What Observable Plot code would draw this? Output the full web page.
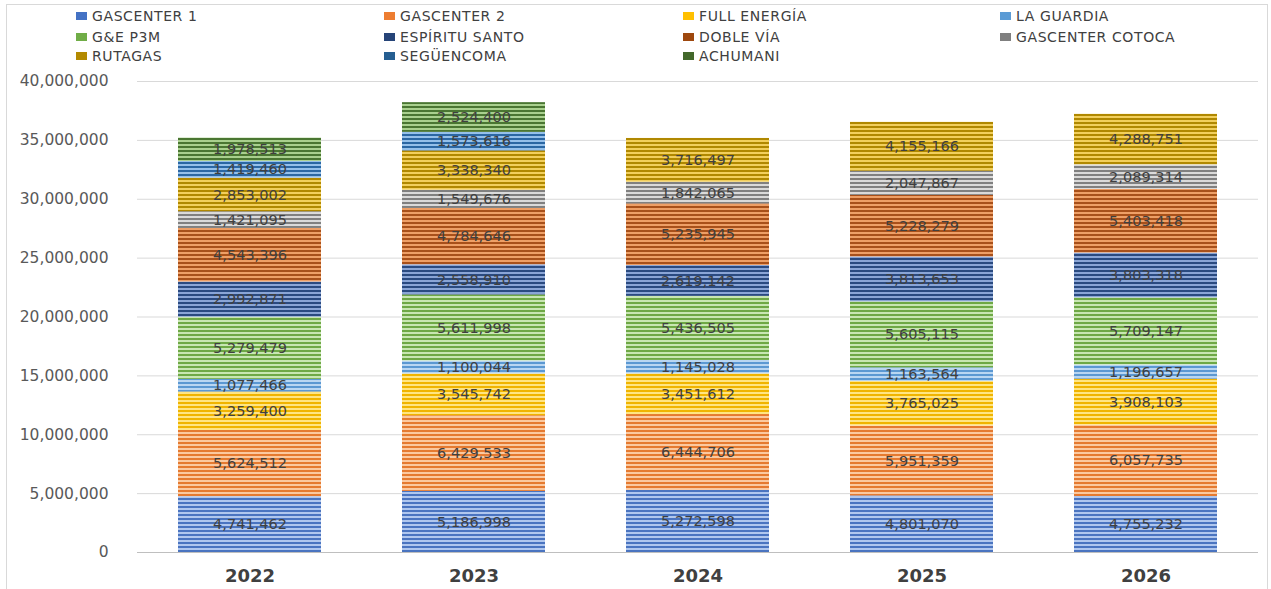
<!DOCTYPE html>
<html>
<head>
<meta charset="utf-8">
<script src="https://cdn.jsdelivr.net/npm/d3@7"></script>
<script src="https://cdn.jsdelivr.net/npm/@observablehq/plot@0.6"></script>
<style>
  html, body { margin: 0; padding: 0; background: #fff; width: 1271px; height: 589px; overflow: hidden; }
  #frame { position: absolute; left: 6px; top: 4px; width: 1262px; height: 600px; border: 1px solid #d9d9d9; box-sizing: border-box; }
  #legend { position: absolute; left: 0; top: 0; width: 1271px; height: 70px; font-family: "DejaVu Sans", sans-serif; font-size: 14px; color: #404040; }
  .item { position: absolute; display: flex; align-items: center; white-space: nowrap; letter-spacing: 0.6px; }
  .sw { width: 11px; height: 8px; margin-right: 5px; }
  #chart { position: absolute; left: 0; top: 70px; }
</style>
</head>
<body>
<div id="frame"></div>
<svg width="0" height="0" style="position:absolute">
  <defs id="pdefs"></defs>
</svg>
<div id="legend"></div>
<div id="chart"></div>
<script>
// ---- data ----
const years = ["2022", "2023", "2024", "2025", "2026"];
const seriesNames = ["GASCENTER 1", "GASCENTER 2", "FULL ENERGÍA", "LA GUARDIA", "G&E P3M", "ESPÍRITU SANTO", "DOBLE VÍA", "GASCENTER COTOCA", "RUTAGAS", "SEGÜENCOMA", "ACHUMANI"];
const gascenter1 = [4741462, 5186998, 5272598, 4801070, 4755232];
const gascenter2 = [5624512, 6429533, 6444706, 5951359, 6057735];
const fullEnergia = [3259400, 3545742, 3451612, 3765025, 3908103];
const laGuardia = [1077466, 1100044, 1145028, 1163564, 1196657];
const gep3m = [5279479, 5611998, 5436505, 5605115, 5709147];
const espirituSanto = [2992871, 2558910, 2619142, 3813653, 3803318];
const dobleVia = [4543396, 4784646, 5235945, 5228279, 5403418];
const gascenterCotoca = [1421095, 1549676, 1842065, 2047867, 2089314];
const rutagas = [2853002, 3338340, 3716497, 4155166, 4288751];
const seguencoma = [1419460, 1573616, null, null, null];
const achumani = [1978513, 2524400, null, null, null];
const yTicks = [0, 5000000, 10000000, 15000000, 20000000, 25000000, 30000000, 35000000, 40000000];

const seriesValues = [gascenter1, gascenter2, fullEnergia, laGuardia, gep3m, espirituSanto, dobleVia, gascenterCotoca, rutagas, seguencoma, achumani];
// solid legend colours, stripe (dark) and background (light) colours
const solid = ["#4472C4", "#ED7D31", "#FFC000", "#5B9BD5", "#70AD47", "#264478", "#9E480E", "#7F7F7F", "#B38A00", "#255E91", "#43682B"];
const darkC = ["#4A74C0", "#E57A30", "#F0B400", "#5B98D2", "#6EA845", "#2A4A80", "#A8501A", "#808080", "#B08800", "#2B67A3", "#4A7632"];
const lightC = ["#B0C7EE", "#FBC9A0", "#FFE583", "#B9D6F2", "#C8E6B2", "#8AA5D6", "#EE9F66", "#DADADA", "#F2CF5C", "#95C0EA", "#A9D08E"];

const table = [];
seriesNames.forEach((s, i) => {
  years.forEach((y, j) => {
    const v = seriesValues[i][j];
    if (v != null) table.push({year: y, series: s, value: v});
  });
});

// ---- patterns ----
const defs = d3.select("#pdefs");
seriesNames.forEach((s, i) => {
  const p = defs.append("pattern").attr("id", "pat" + i)
    .attr("patternUnits", "userSpaceOnUse").attr("width", 8).attr("height", 4);
  p.append("rect").attr("width", 8).attr("height", 4).attr("fill", lightC[i]);
  p.append("rect").attr("width", 8).attr("height", 2).attr("fill", darkC[i]);
});

// ---- legend ----
const colX = [76, 384, 683, 1000];
const rowY = [17, 38, 57];
const leg = d3.select("#legend");
seriesNames.forEach((s, i) => {
  const r = Math.floor(i / 4), c = i % 4;
  const it = leg.append("div").attr("class", "item")
    .style("left", colX[c] + "px").style("top", (rowY[r] - 9) + "px");
  it.append("div").attr("class", "sw").style("background", solid[i]);
  it.append("span").text(s);
});

// ---- chart ----
const fmt = d3.format(",");
const chart = Plot.plot({
  width: 1271,
  height: 519,
  marginLeft: 137,
  marginRight: 13,
  marginTop: 11,
  marginBottom: 37,
  style: {fontFamily: "DejaVu Sans, sans-serif", background: "transparent"},
  x: {domain: years, paddingInner: 0.36, paddingOuter: 0.18, label: null},
  y: {domain: [0, 40000000], label: null},
  color: {domain: seriesNames, range: seriesNames.map((s, i) => `url(#pat${i})`)},
  marks: [
    Plot.gridY(yTicks, {stroke: "#d9d9d9", strokeOpacity: 1}),
    Plot.axisY(yTicks, {tickSize: 0, tickPadding: 29, tickFormat: fmt, fontSize: 15.5, fill: "#595959", label: null}),
    Plot.axisX({tickSize: 0, tickPadding: 17, fontSize: 18, fontWeight: "bold", fill: "#404040", label: null}),
    Plot.barY(table, Plot.stackY({x: "year", y: "value", z: "series", fill: "series", order: null})),
    Plot.ruleY([0], {stroke: "#bfbfbf"}),
    Plot.text(table, Plot.stackY({x: "year", y: "value", z: "series", order: null, text: d => fmt(d.value), fill: "#404040", fontSize: 14.5}))
  ]
});
document.getElementById("chart").appendChild(chart);
</script>
</body>
</html>
